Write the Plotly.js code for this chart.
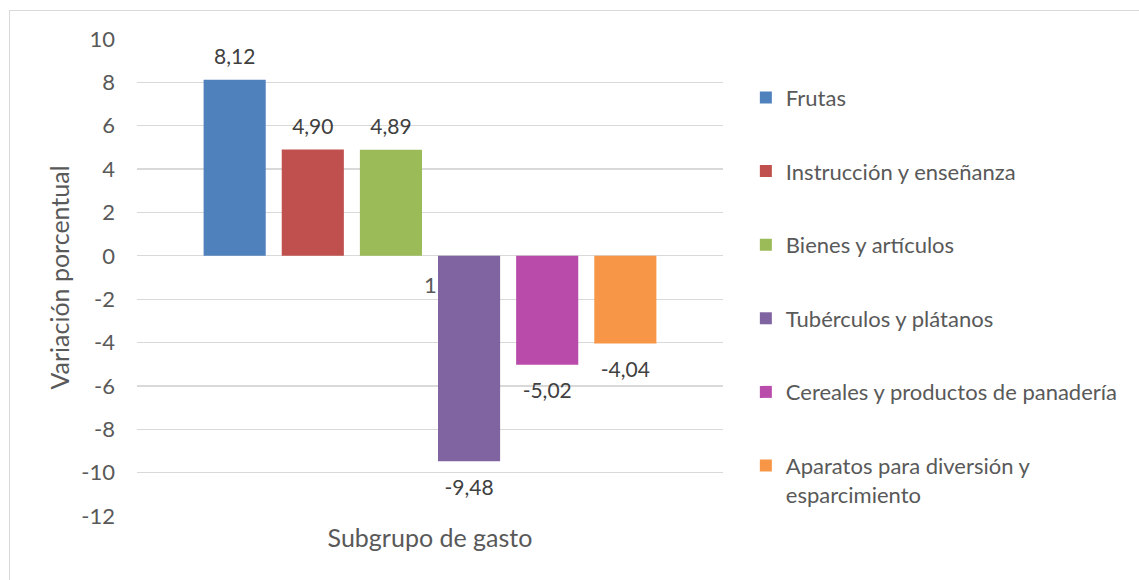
<!DOCTYPE html>
<html>
<head>
<meta charset="utf-8">
<script src="https://cdn.plot.ly/plotly-3.0.1.min.js"></script>
<style>
  html, body { margin: 0; padding: 0; background: #ffffff; }
  #chart { width: 1139px; height: 580px; position: absolute; left: 0; top: 0; }
  #frame { position: absolute; left: 9px; top: 10px; width: 1200px; height: 600px; border: 1px solid #D9D9D9; box-sizing: border-box; pointer-events: none; }
</style>
</head>
<body>
<div id="chart"></div>
<div id="frame"></div>
<script>
const categories = ["1"];
const seriesNames = [
  "Frutas",
  "Instrucción y enseñanza",
  "Bienes y artículos",
  "Tubérculos y plátanos",
  "Cereales y productos de panadería",
  "Aparatos para diversión y<br>esparcimiento"
];
const seriesValues = [8.12, 4.90, 4.89, -9.48, -5.02, -4.04];
const seriesColors = ["#4F81BD", "#C0504D", "#9BBB59", "#8064A2", "#B94CAA", "#F79646"];
const yTicks = [-12, -10, -8, -6, -4, -2, 0, 2, 4, 6, 8, 10];

const FONT = "Lato, 'Open Sans', sans-serif";
const TXT = "#595959";

const barTraces = seriesNames.map((name, i) => ({
  type: "bar",
  name: name,
  x: categories,
  y: [seriesValues[i]],
  marker: { color: seriesColors[i] },
  legendgroup: "g" + i,
  hoverinfo: "skip"
}));

// data labels: invisible markers carry the text, grouped like the bars
const labelTraces = seriesNames.map((name, i) => {
  const pos = seriesValues[i] >= 0;
  return {
    type: "scatter",
    mode: "markers+text",
    x: categories,
    y: [seriesValues[i]],
    legendgroup: "g" + i,
    showlegend: false,
    marker: { size: pos ? 15 : 27, opacity: 0, color: seriesColors[i] },
    texttemplate: "%{y:.2f}",
    textposition: pos ? "top center" : "bottom center",
    textfont: { family: FONT, size: 21, color: "#404040" },
    cliponaxis: false,
    hoverinfo: "skip"
  };
});

const layout = {
  width: 1139,
  height: 580,
  margin: { l: 137, r: 416, t: 39, b: 64, autoexpand: false },
  paper_bgcolor: "#ffffff",
  plot_bgcolor: "#ffffff",
  separators: ",.",
  barmode: "group",
  bargap: 0.2,
  bargroupgap: 0.205,
  scattermode: "group",
  scattergap: 0.2,
  font: { family: FONT, size: 22, color: TXT },
  showlegend: true,
  legend: {
    x: 1.039, xanchor: "left", xref: "paper",
    y: 0.921, yanchor: "top",
    traceorder: "grouped",
    tracegroupgap: 42,
    valign: "top",
    font: { family: FONT, size: 22, color: TXT },
    itemwidth: 30
  },
  xaxis: {
    type: "category",
    range: [-0.5, 0.5],
    showticklabels: false,
    showgrid: false,
    zeroline: false,
    showline: false,
    ticks: "",
    title: { text: "Subgrupo de gasto", standoff: 13, font: { family: FONT, size: 25, color: TXT } }
  },
  yaxis: {
    range: [-12, 10],
    tickvals: yTicks,
    ticktext: yTicks.map(String),
    showgrid: true,
    gridcolor: "#D9D9D9",
    gridwidth: 1.3,
    zeroline: true,
    zerolinecolor: "#D9D9D9",
    zerolinewidth: 1.3,
    showline: false,
    ticks: "",
    ticklabelstandoff: 21,
    tickfont: { family: FONT, size: 22, color: TXT },
    automargin: false,
    title: { text: "Variación porcentual", standoff: 4, font: { family: FONT, size: 25, color: TXT } }
  },
  annotations: [{
    x: 0, y: 0, xref: "x", yref: "y",
    text: categories[0],
    showarrow: false,
    yanchor: "top",
    yshift: -13,
    font: { family: FONT, size: 22, color: TXT }
  }]
};

Plotly.newPlot("chart", barTraces.concat(labelTraces), layout, { displayModeBar: false, staticPlot: true });
</script>
</body>
</html>
